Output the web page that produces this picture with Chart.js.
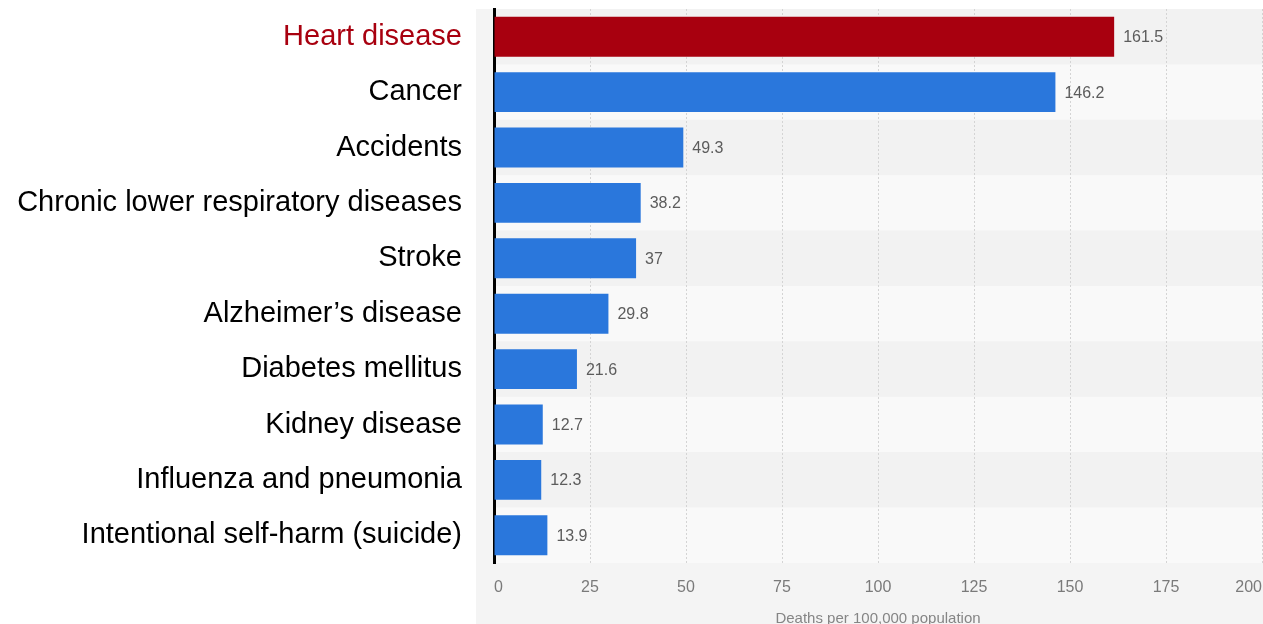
<!DOCTYPE html>
<html>
<head>
<meta charset="utf-8">
<script src="https://cdn.jsdelivr.net/npm/chart.js@4"></script>
<style>
  html, body { margin: 0; padding: 0; background: #fff; }
  canvas { display: block; }
</style>
</head>
<body>
<canvas id="myChart" width="1263" height="624"></canvas>
<script>
const causes = [
  'Heart disease',
  'Cancer',
  'Accidents',
  'Chronic lower respiratory diseases',
  'Stroke',
  'Alzheimer\u2019s disease',
  'Diabetes mellitus',
  'Kidney disease',
  'Influenza and pneumonia',
  'Intentional self-harm (suicide)'
];
const deathRates = [161.5, 146.2, 49.3, 38.2, 37, 29.8, 21.6, 12.7, 12.3, 13.9];
const axisMin = 0;
const axisMax = 200;
const axisStep = 25;
const axisTitle = 'Deaths per 100,000 population';

const red = '#a8000f';
const blue = '#2a77dc';
const fontFamily = '"Liberation Sans", Arial, Helvetica, sans-serif';

// grey panel + alternating row bands
const panelBg = {
  id: 'panelBg',
  beforeDraw(chart) {
    const ctx = chart.ctx;
    const area = chart.chartArea;
    const y = chart.scales.y;
    ctx.save();
    ctx.fillStyle = '#fff';
    ctx.fillRect(0, 0, chart.width, chart.height);
    ctx.fillStyle = '#f4f4f4';
    ctx.fillRect(476, area.top, chart.width - 476, chart.height - area.top);
    const half = (y.getPixelForTick(1) - y.getPixelForTick(0)) / 2;
    causes.forEach((c, i) => {
      const py = y.getPixelForTick(i);
      ctx.fillStyle = i % 2 === 0 ? '#f2f2f2' : '#f9f9f9';
      ctx.fillRect(area.left, py - half, area.right - area.left + 1, half * 2);
    });
    ctx.restore();
  }
};

// value labels at the end of each bar
const valueLabels = {
  id: 'valueLabels',
  afterDatasetsDraw(chart) {
    const ctx = chart.ctx;
    const meta = chart.getDatasetMeta(0);
    ctx.save();
    ctx.font = '16px ' + fontFamily;
    ctx.fillStyle = '#5c5c5c';
    ctx.textAlign = 'left';
    ctx.textBaseline = 'middle';
    meta.data.forEach((bar, i) => {
      ctx.fillText(String(deathRates[i]), bar.x + 9, bar.y + 1);
    });
    ctx.restore();
  }
};

const data = {
  labels: causes,
  datasets: [{
    data: deathRates,
    backgroundColor: causes.map((c, i) => i === 0 ? red : blue),
    barPercentage: 0.72,
    categoryPercentage: 1
  }]
};

const config = {
  type: 'bar',
  data: data,
  options: {
    indexAxis: 'y',
    responsive: false,
    animation: false,
    devicePixelRatio: 1,
    layout: { padding: { top: 9, right: 1, left: 0, bottom: 0 } },
    plugins: {
      legend: { display: false },
      tooltip: { enabled: false }
    },
    scales: {
      x: {
        min: axisMin,
        max: axisMax,
        afterFit: s => {
          s.height = 61;
          s.paddingLeft = 0;
          s.paddingRight = 0;
        },
        ticks: {
          stepSize: axisStep,
          align: 'inner',
          padding: 15,
          color: '#7a7a7a',
          font: { family: fontFamily, size: 16 }
        },
        grid: {
          color: '#d4d4d4',
          lineWidth: 1,
          drawTicks: false
        },
        border: { display: false, dash: [2, 2] },
        title: {
          display: true,
          text: axisTitle,
          color: '#858585',
          font: { family: fontFamily, size: 15, lineHeight: 1 },
          padding: { top: 0, bottom: -2 }
        }
      },
      y: {
        afterFit: s => {
          s.width = 494;
          s.paddingTop = 0;
          s.paddingBottom = 0;
        },
        ticks: {
          padding: 32,
          color: c => c.index === 0 ? red : '#000',
          font: { family: fontFamily, size: 29 }
        },
        grid: { color: 'rgba(0,0,0,0)', drawTicks: false },
        border: { display: true, color: '#000', width: 3 }
      }
    }
  },
  plugins: [panelBg, valueLabels]
};

const myChart = new Chart(
  document.getElementById('myChart'),
  config
);
</script>
</body>
</html>
